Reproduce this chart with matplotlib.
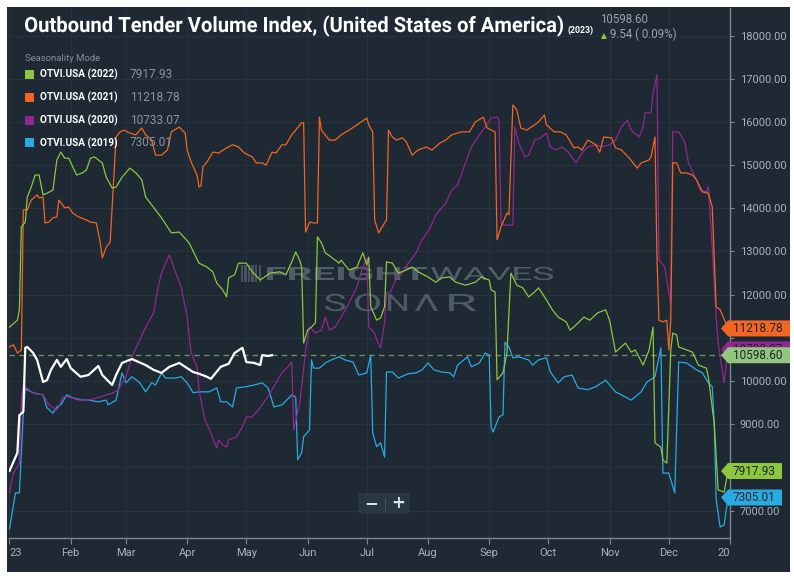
import matplotlib
matplotlib.use('Agg')
import matplotlib.pyplot as plt
from matplotlib.patches import Rectangle, Polygon, PathPatch, FancyBboxPatch
from matplotlib.textpath import TextPath
from matplotlib.font_manager import FontProperties
from matplotlib.transforms import Affine2D
from matplotlib.lines import Line2D

plt.rcParams['font.family'] = ['Roboto', 'DejaVu Sans']

W, H = 794, 579

# ---- data: day of year -> OTVI value ----
days23 = [0, 4, 5, 7, 8, 9, 12, 14, 17, 19, 21, 24, 26, 29, 31, 36, 40, 45, 47, 52, 54, 57,
          62, 69, 73, 77, 81, 86, 90, 93, 96, 100, 102, 107, 111, 114, 118, 120, 124, 127,
          128, 131, 133]
vals23 = [7920, 8340, 9210, 9290, 10770, 10790, 10650, 10490, 9980, 10020,
          10260, 10490, 10330, 10510, 10300, 10100, 10140, 10350, 10140, 9910,
          10140, 10420, 10510, 10370, 10260, 10190, 10330, 10420, 10300, 10210,
          10170, 10100, 10050, 10330, 10400, 10650, 10770, 10440, 10420, 10370,
          10600, 10580, 10600]

days22 = [0, 4, 5, 6, 8, 9, 11, 13, 15, 17,
          19, 22, 24, 26, 28, 30, 34, 37, 39, 41,
          43, 47, 49, 52, 54, 57, 61, 64, 67, 69,
          74, 77, 82, 86, 91, 96, 100, 103, 105, 108,
          110, 111, 114, 116, 120, 123, 127, 132, 137, 140,
          143, 145, 147, 148, 149, 151, 153, 155, 156, 158,
          160, 163, 167, 168, 172, 176, 179, 181, 182, 183,
          186, 188, 190, 191, 194, 197, 201, 204, 207, 212,
          216, 219, 223, 226, 231, 236, 239, 243, 244, 246,
          247, 250, 252, 254, 257, 260, 263, 266, 268, 272,
          275, 278, 282, 284, 287, 291, 294, 298, 302, 304,
          307, 312, 315, 317, 321, 324, 326, 327, 330, 331,
          333, 335, 336, 338, 339, 346, 349, 353, 354, 357,
          359, 362, 364]
vals22 = [11250, 11410, 11650, 13570, 13680, 14260, 14490, 14770, 14770, 14310,
          14350, 14420, 15120, 15300, 15160, 15160, 14770, 14820, 14890, 15160,
          15190, 15050, 14720, 14470, 14490, 14720, 14930, 14820, 14660, 14260,
          13960, 13780, 13430, 13450, 13200, 12730, 12640, 12530, 12270, 12110,
          11950, 12390, 12460, 12730, 12730, 12530, 12340, 12500, 12530, 12460,
          12760, 12990, 12800, 12640, 10880, 11180, 11250, 11350, 13340, 13200,
          12970, 12870, 12730, 12800, 12570, 12640, 12970, 12690, 12870, 11720,
          11410, 11460, 11720, 12760, 12730, 12500, 12570, 12640, 12530, 12410,
          12290, 12390, 12410, 12290, 12220, 12290, 12410, 12340, 12110, 12060,
          10030, 10190, 10650, 12500, 12220, 12160, 11950, 12060, 12160, 11880,
          11650, 11480, 11370, 11180, 11300, 11480, 11410, 11580, 11650, 11410,
          10670, 10880, 10670, 10720, 10370, 10720, 11250, 8570, 8470, 8170,
          8100, 10720, 11110, 11070, 10790, 10670, 10370, 10300, 10100, 9030,
          7480, 7430, 7918]

days21 = [0, 2, 4, 6, 7, 9, 11, 14, 15, 17,
          18, 20, 22, 24, 25, 28, 30, 32, 35, 39,
          41, 44, 46, 47, 49, 51, 52, 54, 56, 58,
          61, 64, 67, 69, 72, 74, 77, 80, 82, 86,
          89, 90, 92, 95, 96, 97, 98, 100, 103, 106,
          110, 113, 116, 119, 123, 125, 128, 130, 133, 135,
          138, 140, 143, 145, 148, 149, 150, 152, 154, 156,
          157, 158, 162, 165, 168, 172, 176, 181, 182, 184,
          185, 187, 190, 191, 192, 194, 196, 199, 201, 204,
          207, 211, 214, 218, 221, 224, 229, 233, 236, 240,
          242, 246, 247, 249, 252, 253, 255, 257, 259, 262,
          266, 268, 271, 272, 276, 279, 282, 286, 288, 290,
          293, 297, 299, 301, 305, 307, 310, 314, 318, 320,
          324, 325, 327, 328, 329, 331, 333, 334, 335, 336,
          338, 340, 343, 346, 348, 351, 354, 356, 358, 360,
          364]
vals21 = [10790, 10840, 10650, 10720, 13960, 13960, 14190, 14310, 14240, 14260,
          13660, 13680, 13780, 13800, 14190, 14010, 14030, 13890, 13800, 13730,
          13680, 13660, 13200, 12850, 13100, 13220, 14030, 15650, 15770, 15810,
          15740, 15700, 15860, 15700, 15580, 15230, 15230, 15350, 15770, 15880,
          15740, 15350, 15070, 14770, 14490, 14520, 14960, 15070, 15300, 15280,
          15400, 15470, 15420, 15280, 15190, 15050, 15050, 15000, 15300, 15280,
          15470, 15470, 15700, 15810, 15980, 15980, 13450, 13680, 13660, 13660,
          16110, 15810, 15580, 15580, 15700, 15810, 15930, 16090, 15930, 15770,
          13730, 13430, 13660, 13730, 15810, 15650, 15580, 15630, 15540, 15230,
          15350, 15420, 15350, 15510, 15580, 15700, 15770, 15770, 16000, 16110,
          15860, 15770, 13270, 13570, 13890, 13850, 16390, 16280, 15860, 15810,
          15930, 16000, 16160, 15930, 15770, 15770, 15700, 15400, 15420, 15350,
          15580, 15470, 15300, 15650, 15630, 15400, 15350, 15160, 14930, 15050,
          15120, 15190, 15650, 12870, 11410, 11370, 11410, 10720, 11410, 15050,
          15050, 14820, 14820, 14770, 14660, 14380, 14350, 14030, 11720, 11650,
          11219]

days20 = [0, 2, 5, 6, 7, 12, 17, 20, 24, 25,
          27, 30, 35, 40, 46, 49, 52, 55, 59, 62,
          66, 69, 73, 75, 77, 81, 85, 87, 90, 92,
          95, 96, 99, 101, 105, 106, 108, 110, 111, 115,
          118, 120, 123, 127, 132, 135, 138, 141, 143, 144,
          147, 148, 150, 152, 155, 158, 160, 162, 165, 168,
          172, 176, 179, 181, 182, 185, 186, 188, 190, 191,
          193, 196, 199, 202, 206, 209, 213, 216, 221, 224,
          227, 231, 234, 238, 241, 244, 247, 248, 249, 251,
          255, 256, 258, 261, 263, 266, 269, 272, 274, 277,
          280, 283, 287, 290, 293, 297, 300, 304, 307, 310,
          313, 315, 319, 321, 322, 325, 326, 328, 329, 332,
          334, 335, 336, 339, 342, 344, 348, 350, 353, 354,
          356, 358, 359, 362, 364]
vals20 = [7410, 7870, 8100, 9560, 9910, 9720, 9680, 9450, 9330, 9400,
          9630, 9630, 9560, 9560, 9630, 9680, 9720, 9790, 10100, 10560,
          10950, 11250, 11580, 12110, 12500, 12920, 12410, 12180, 11480, 10650,
          10330, 9790, 9100, 8910, 8450, 8640, 8520, 8470, 8640, 8710,
          8940, 9170, 9170, 9380, 9720, 9960, 10190, 10330, 10440, 8870,
          9490, 9860, 10720, 11250, 11110, 11180, 11480, 11180, 11250, 11480,
          11810, 12180, 12640, 12850, 11250, 11110, 10950, 10770, 11350, 12040,
          12060, 12390, 12500, 12730, 12970, 13270, 13540, 13850, 14120, 14420,
          14540, 15050, 15420, 15700, 15880, 16090, 16110, 16040, 13660, 13610,
          13610, 15880, 15510, 15190, 15230, 15580, 15630, 15740, 15420, 15350,
          15420, 15300, 15050, 15280, 15420, 15470, 15420, 15470, 15580, 15880,
          16040, 15810, 15650, 15880, 16210, 16210, 16670, 17090, 12800, 12640,
          12040, 11810, 15770, 15770, 15540, 15050, 14660, 14420, 14380, 14490,
          13100, 11480, 10880, 9960, 10733]

days19 = [0, 3, 5, 7, 8, 12, 17, 19, 22, 24,
          26, 29, 32, 37, 40, 45, 49, 50, 54, 57,
          59, 62, 66, 69, 72, 74, 77, 79, 84, 87,
          90, 93, 96, 101, 105, 107, 110, 113, 115, 120,
          124, 128, 131, 134, 138, 142, 143, 145, 146, 148,
          149, 152, 153, 154, 157, 160, 163, 167, 170, 174,
          177, 181, 183, 184, 186, 188, 190, 191, 194, 197,
          202, 206, 209, 212, 215, 219, 223, 225, 227, 232,
          234, 238, 241, 243, 244, 245, 248, 250, 251, 253,
          255, 258, 263, 265, 268, 272, 274, 278, 281, 285,
          288, 293, 297, 302, 307, 310, 315, 320, 323, 327,
          330, 331, 334, 337, 339, 343, 348, 351, 354, 356,
          357, 358, 360, 362, 364]
vals19 = [6580, 7410, 7410, 9260, 9820, 9730, 9680, 9380, 9260, 9400,
          9450, 9680, 9610, 9560, 9560, 9520, 9560, 9450, 9560, 10190,
          9960, 10100, 9960, 9750, 9960, 9910, 10190, 10070, 10070, 10100,
          9960, 9730, 9750, 9750, 9840, 9520, 9520, 9400, 9840, 9870,
          9910, 9960, 9840, 9400, 9450, 9630, 9680, 9630, 8180, 8340,
          8710, 8870, 10490, 10300, 10300, 10420, 10490, 10560, 10490, 10440,
          10140, 10190, 10600, 8800, 8480, 8570, 8240, 10210, 10210, 10070,
          10170, 10190, 10260, 10420, 10260, 10210, 10190, 10100, 10370, 10560,
          10330, 10420, 10650, 10600, 8940, 8820, 9170, 9220, 10900, 10790,
          10540, 10560, 10490, 10370, 10490, 10540, 10210, 9960, 10100, 10140,
          9840, 9800, 9870, 10020, 9750, 9680, 9560, 9750, 9980, 10100,
          10770, 7870, 7870, 7410, 10440, 10420, 10260, 10190, 9960, 9870,
          9030, 7250, 6620, 6670, 7305]

month_days = [0, 31, 59, 90, 120, 151, 181, 212, 243, 273, 304, 334, 365]
month_labels = ['23', 'Feb', 'Mar', 'Apr', 'May', 'Jun', 'Jul', 'Aug', 'Sep',
                'Oct', 'Nov', 'Dec', '20']
y_ticks = [7000, 8000, 9000, 10000, 11000, 12000, 13000, 14000, 15000, 16000, 17000, 18000]
# these two labels sit under the value tags in the reference
y_hidden = [8000, 11000]

legend_names = ['OTVI.USA (2022)', 'OTVI.USA (2021)', 'OTVI.USA (2020)', 'OTVI.USA (2019)']
legend_values = ['7917.93', '11218.78', '10733.07', '7305.01']
current_value = 10598.60

C22, C21, C20, C19 = '#8dc63f', '#f26522', '#92278f', '#29abe2'
BG = '#1e2934'
GRID = '#27333e'
AXIS = '#7f878e'
TXT = '#aab1b7'
WM = '#5a6670'


def fx(x):
    return x / W


def fy(y):
    return 1 - y / H


def path_text(s, x0, x1, base, cap, weight='bold', color='white', alpha=1.0, host=None, z=5):
    # text drawn as a path so it can be squeezed/stretched to the reference width
    tp = TextPath((0, 0), s, size=cap / 0.711, prop=FontProperties(family='Roboto', weight=weight))
    ext = tp.get_extents()
    sx = (x1 - x0) / ext.width
    tr = (Affine2D().translate(-ext.x0, 0).scale(sx, 1).translate(x0, H - base)
          .scale(1 / W, 1 / H) + fig.transFigure)
    p = PathPatch(tp, transform=tr, facecolor=color, edgecolor='none', alpha=alpha, zorder=z)
    if host is None:
        fig.add_artist(p)
    else:
        host.add_artist(p)


fig = plt.figure(figsize=(W / 100, H / 100), dpi=100, facecolor='white')
fig.add_artist(Rectangle((fx(7), fy(572)), fx(790) - fx(7), fy(7) - fy(572),
                         transform=fig.transFigure, facecolor=BG, edgecolor='none', zorder=-10))

ax = fig.add_axes([fx(9), fy(538), (730 - 9) / W, (538 - 8) / H])
ax.set_facecolor('none')
ax.set_xlim(-0.25, 364.8)
ax.set_ylim(6367, 18637)

ax.grid(True, color=GRID, lw=0.8, zorder=0)
ax.set_axisbelow(True)
for s in ['left', 'top']:
    ax.spines[s].set_visible(False)
for s in ['bottom', 'right']:
    ax.spines[s].set_color(AXIS)
    ax.spines[s].set_linewidth(1)

ax.set_xticks(month_days)
ax.set_xticklabels(month_labels)
ax.tick_params(axis='x', colors=AXIS, labelcolor=TXT, labelsize=8, length=4, pad=3)
xl = ax.get_xticklabels()
xl[0].set_ha('left')
xl[-1].set_ha('right')

ax.yaxis.tick_right()
ax.set_yticks(y_ticks)
ax.set_yticklabels(['' if v in y_hidden else f'{v:.2f}' for v in y_ticks])
ax.tick_params(axis='y', colors=AXIS, labelcolor=TXT, labelsize=8, length=3, pad=4)

# watermark
path_text('FREIGHT', 267, 427, 280, 13, weight='bold', color=WM, alpha=0.85, host=ax, z=1)
path_text('WAVES', 431, 553, 280, 13, weight='normal', color=WM, alpha=0.85, host=ax, z=1)
for ch, a, b in [('S', 325, 345), ('O', 355, 380), ('N', 388, 407), ('Λ', 415, 438), ('R', 449, 476)]:
    path_text(ch, a, b, 311, 17, weight='normal', color=WM, alpha=0.8, host=ax, z=1)
for i in range(6):
    ax.add_artist(Rectangle((fx(241 + i * 3.5), fy(282)), fx(2), 17 / H, transform=fig.transFigure,
                            facecolor=WM, alpha=0.7, edgecolor='none', zorder=1))

ax.axhline(current_value, color='#6f8c5c', lw=1, ls=(0, (4, 3)), zorder=1.5)

ax.plot(days19, vals19, color=C19, lw=0.9, zorder=2)
ax.plot(days20, vals20, color=C20, lw=0.9, zorder=2.1)
ax.plot(days21, vals21, color=C21, lw=0.9, zorder=2.2)
ax.plot(days22, vals22, color=C22, lw=0.9, zorder=2.3)
ax.plot(days23, vals23, color='white', lw=1.6, zorder=3)


# value tags on the right axis
def tag(value, color, label, right=790, clip_below=None):
    yf = fig.transFigure.inverted().transform(ax.transData.transform((0, value)))[1]
    hh = 8 / H
    pts = [(fx(721), yf), (fx(728), yf + hh), (fx(right), yf + hh), (fx(right), yf - hh), (fx(728), yf - hh)]
    fig.add_artist(Polygon(pts, closed=True, transform=fig.transFigure, facecolor=color,
                           edgecolor='none', zorder=6))
    t = fig.text(fx(733), yf, label, color='#1b2530', fontsize=8.5, va='center', ha='left', zorder=7)
    if clip_below is not None:
        # only the sliver above the next tag stays visible
        clip = Rectangle((fx(728), clip_below), fx(right) - fx(728), yf + hh - clip_below,
                         transform=fig.transFigure, visible=False)
        fig.add_artist(clip)
        t.set_clip_path(clip)
    return yf + hh


tag(11218.78, C21, '11218.78')
green_top = fig.transFigure.inverted().transform(ax.transData.transform((0, current_value)))[1] + 8 / H
tag(10733.07, C20, '10733.07', clip_below=green_top)
tag(current_value, '#93c67c', f'{current_value:.2f}')
tag(7917.93, C22, '7917.93', right=782)
tag(7305.01, C19, '7305.01', right=782)

# title block
path_text('Outbound Tender Volume Index, (United States of America)', 25, 563, 32, 15)
fig.text(fx(567), fy(33), '(2023)', color='white', fontsize=6.3, fontweight='bold', va='baseline')
fig.text(fx(600), fy(23), '10598.60', color='#9aa2a9', fontsize=8.3, va='baseline')
fig.text(fx(601), fy(38), '▲', color='#8dc63f', fontsize=5.5, va='baseline',
         family=['DejaVu Sans'])
fig.text(fx(610), fy(38.5), '9.54 ( 0.09%)', color='#9aa2a9', fontsize=8.3, va='baseline')

# legend
fig.text(fx(25), fy(61), 'Seasonality Mode', color='#858e96', fontsize=6.8, va='baseline')
for i, (name, val, col) in enumerate(zip(legend_names, legend_values, [C22, C21, C20, C19])):
    yc = 74.5 + i * 22.8
    fig.add_artist(Rectangle((fx(25), fy(yc + 4.5)), fx(9), 9 / H, transform=fig.transFigure,
                             facecolor=col, edgecolor='none'))
    fig.text(fx(40), fy(yc), name, color='white', fontsize=7.2, fontweight='bold', va='center')
    fig.text(fx(130), fy(yc), val, color='#8a939a', fontsize=8.6, va='center')

# zoom buttons
fig.add_artist(FancyBboxPatch((fx(358), fy(514)), fx(52), 21 / H,
                              boxstyle='round,pad=0,rounding_size=0.004',
                              transform=fig.transFigure, facecolor='#2a3642', edgecolor='none', zorder=6))
fig.add_artist(Line2D([fx(385), fx(385)], [fy(498), fy(510)], transform=fig.transFigure,
                      color='#46525d', lw=0.8, zorder=7))
fig.text(fx(371), fy(503.5), '−', color='#dfe3e6', fontsize=12, fontweight='bold',
         ha='center', va='center', zorder=7, family=['DejaVu Sans'])
fig.text(fx(398), fy(503.5), '+', color='#dfe3e6', fontsize=12, fontweight='bold',
         ha='center', va='center', zorder=7, family=['DejaVu Sans'])

fig.savefig('out.png', dpi=100, facecolor='white')
